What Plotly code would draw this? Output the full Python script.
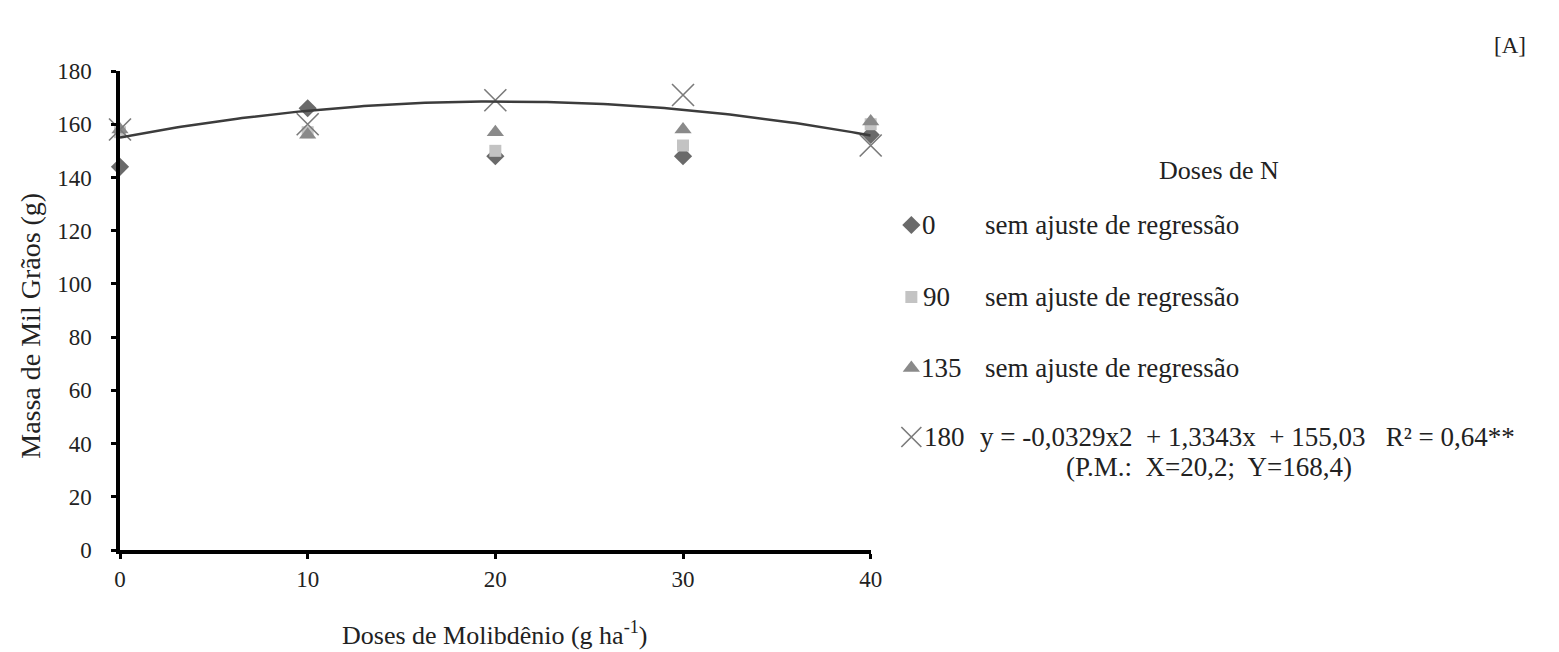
import numpy as np
import plotly.graph_objects as go

# Molybdenum doses (g/ha) and thousand-grain mass (g) for each nitrogen dose
mo_doses = [0, 10, 20, 30, 40]
mass_n0 = [144, 166, 148, 148, 156]
mass_n90 = [157, 157, 150, 152, 160]
mass_n135 = [158, 156, 157, 158, 161]
mass_n180 = [158, 160, 169, 171, 152]

# quadratic fit for N = 180
fit_a, fit_b, fit_c = -0.0329, 1.3343, 155.03

y_ticks = list(range(0, 181, 20))
x_ticks = [0, 10, 20, 30, 40]

W, H = 1559, 652
ML, MR, MT, MB = 120, 0, 71, 102
PW, PH = W - ML - MR, H - MT - MB
PLOT_RIGHT = 877

FONT = "Liberation Serif"
TXT = "#222222"


def px(x):
    return (x - ML) / PW


def py(y):
    return (H - MB - y) / PH


fig = go.Figure()

marker_styles = {
    "0": dict(symbol="diamond", size=14, color="#6a6a6a"),
    "90": dict(symbol="square", size=12, color="#c3c3c3"),
    "135": dict(symbol="triangle-up", size=15, color="#8a8a8a"),
}
series = {"0": mass_n0, "90": mass_n90, "135": mass_n135}

for name, vals in series.items():
    st = marker_styles[name]
    fig.add_trace(go.Scatter(
        x=mo_doses, y=vals, mode="markers", name=name,
        marker=dict(symbol=st["symbol"], size=st["size"], color=st["color"],
                    line=dict(width=0)),
        cliponaxis=False, showlegend=False,
    ))

fig.add_trace(go.Scatter(
    x=mo_doses, y=mass_n180, mode="markers", name="180",
    marker=dict(symbol="x-thin", size=22, line=dict(width=1.6, color="#7a7a7a")),
    cliponaxis=False, showlegend=False,
))

xf = np.linspace(0, 40, 161)
yf = fit_a * xf ** 2 + fit_b * xf + fit_c
fig.add_trace(go.Scatter(
    x=xf, y=yf, mode="lines", line=dict(color="#3c3c3c", width=2.5),
    showlegend=False, hoverinfo="skip",
))

# legend glyphs on a hidden axis pair measured in screen units
leg_x = 918
leg_rows = [225, 297, 368, 437]
leg_syms = [
    dict(symbol="diamond", size=14, color="#6a6a6a"),
    dict(symbol="square", size=12, color="#c3c3c3"),
    dict(symbol="triangle-up", size=15, color="#8a8a8a"),
]
for ry, st in zip(leg_rows[:3], leg_syms):
    fig.add_trace(go.Scatter(
        x=[leg_x], y=[ry], xaxis="x2", yaxis="y2", mode="markers",
        marker=dict(symbol=st["symbol"], size=st["size"], color=st["color"]),
        showlegend=False, hoverinfo="skip",
    ))
fig.add_trace(go.Scatter(
    x=[leg_x], y=[leg_rows[3]], xaxis="x2", yaxis="y2", mode="markers",
    marker=dict(symbol="x-thin", size=20, line=dict(width=1.6, color="#7a7a7a")),
    showlegend=False, hoverinfo="skip",
))

annotations = []


def add_text(text, x, y, size, xanchor="left", yanchor="middle", angle=0):
    annotations.append(dict(
        text=text, x=px(x), y=py(y), xref="paper", yref="paper",
        xanchor=xanchor, yanchor=yanchor, showarrow=False, textangle=angle,
        font=dict(family=FONT, size=size, color=TXT),
    ))


add_text("[A]", 1522, 46, 23, xanchor="center")
add_text("Doses de N", 1228, 170, 26, xanchor="center")

labels_num = ["0", "90", "135", "180"]
num_x = [927, 928, 926, 929]
row_text = ["sem ajuste de regressão"] * 3 + [
    "y = -0,0329x2  + 1,3343x  + 155,03   R² = 0,64**"
]
text_x = [990, 990, 990, 985]
for lab, nx, ry in zip(labels_num, num_x, leg_rows):
    add_text(lab, nx, ry, 27)
for ry, tx, t in zip(leg_rows, text_x, row_text):
    add_text(t, tx, ry, 27)
add_text("(P.M.:  X=20,2;  Y=168,4)", 1218, 467, 27, xanchor="center")

add_text("Doses de Molibdênio (g ha<sup>-1</sup>)", 498, 633, 26, xanchor="center")
add_text("Massa de Mil Grãos (g)", 29, 326, 28, xanchor="center", angle=-90)

axis_common = dict(
    showgrid=False, zeroline=False, showline=True, linecolor="black",
    linewidth=3.5, ticks="outside", tickcolor="black", tickwidth=3,
    ticklen=5, tickfont=dict(family=FONT, size=23, color=TXT),
)

fig.update_layout(
    width=W, height=H,
    margin=dict(l=ML, r=MR, t=MT, b=MB, pad=0),
    paper_bgcolor="white", plot_bgcolor="rgba(0,0,0,0)",
    showlegend=False,
    xaxis=dict(domain=[0, (PLOT_RIGHT - ML) / PW], range=[0, 40],
               tickvals=x_ticks, ticklabelstandoff=1, **axis_common),
    yaxis=dict(range=[0, 180], tickvals=y_ticks, ticklabelstandoff=15,
               **axis_common),
    xaxis2=dict(domain=[0, 1], range=[ML, W - MR], visible=False,
                anchor="y2"),
    yaxis2=dict(domain=[0, 1], range=[H - MB, MT], visible=False,
                anchor="x2"),
    annotations=annotations,
)

fig.write_html("out.html")
